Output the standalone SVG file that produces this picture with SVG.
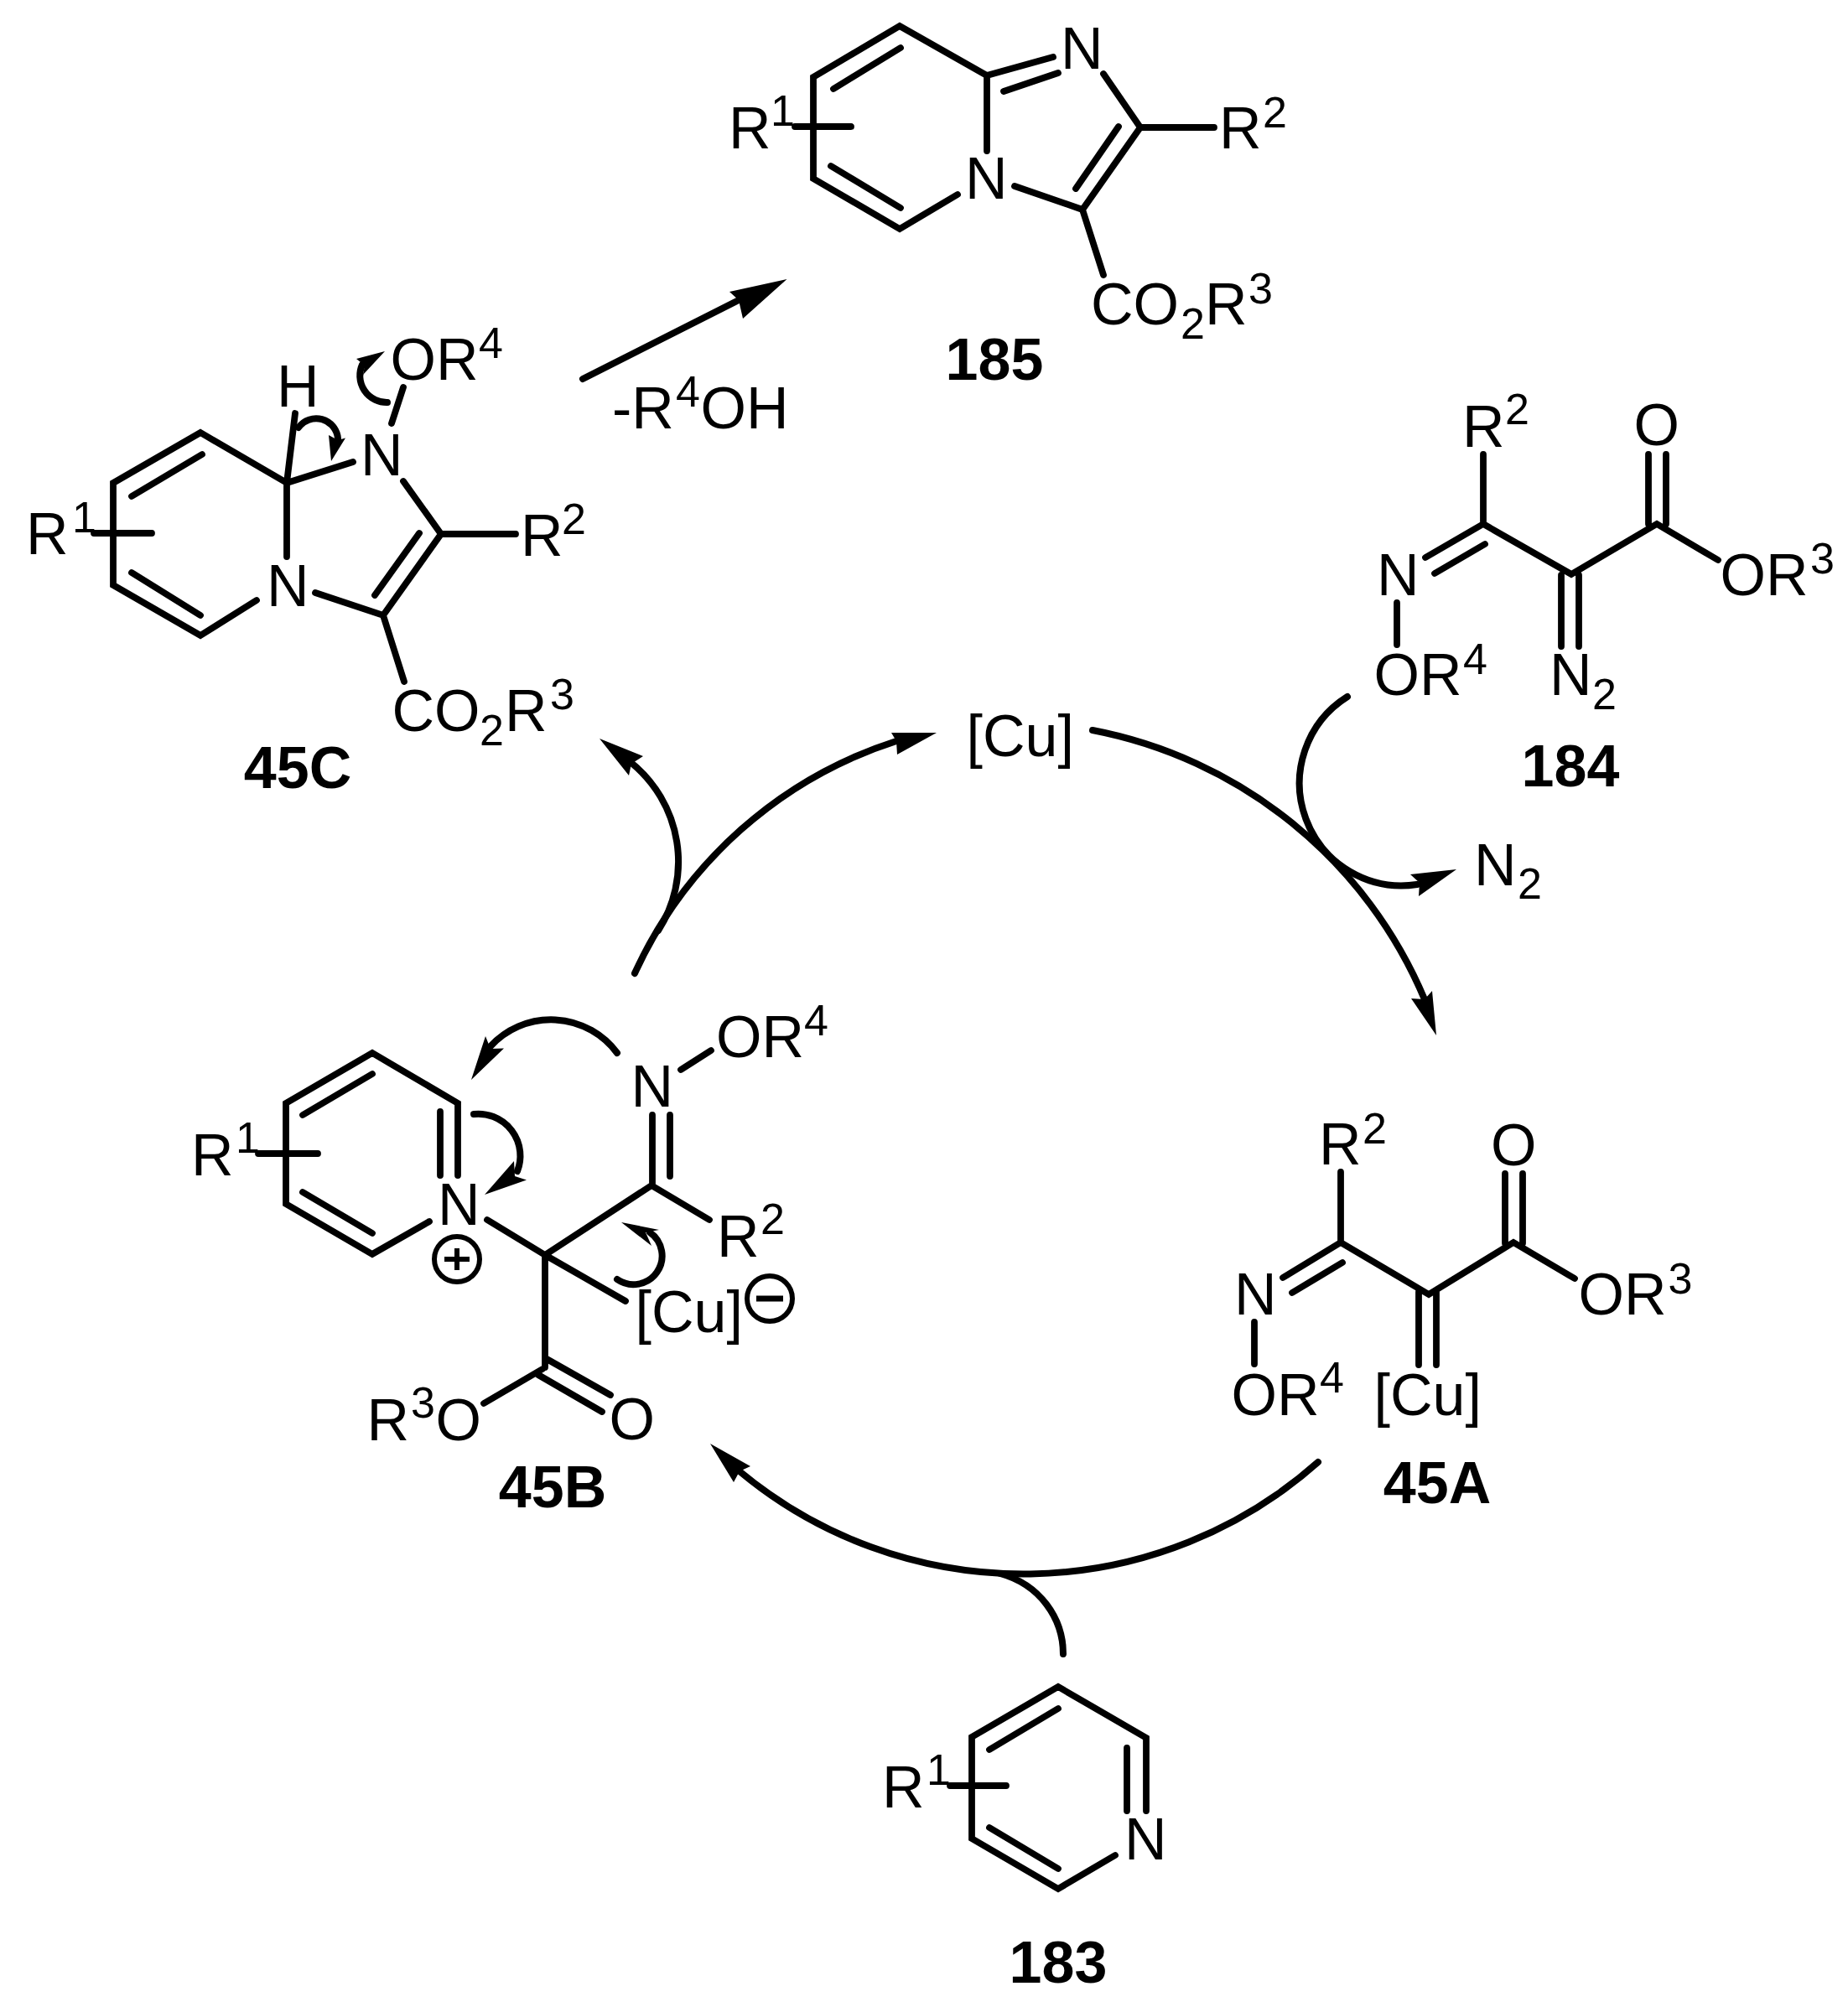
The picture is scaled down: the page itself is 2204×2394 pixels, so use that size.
<svg xmlns="http://www.w3.org/2000/svg" width="2204" height="2394" viewBox="0 0 2204 2394">
<style>
text{font-family:"Liberation Sans",Arial,sans-serif;fill:#000}
.t{font-size:70px}
.s{font-size:52px}
.l{font-size:70px;font-weight:bold;text-anchor:middle}
.b{fill:none;stroke:#000;stroke-width:7.800;stroke-linecap:round;stroke-linejoin:miter}
.a{fill:none;stroke:#000;stroke-width:8;stroke-linecap:round}
.h{fill:#000;stroke:none}
.c{fill:none;stroke:#000;stroke-width:6}
</style>
<rect width="2204" height="2394" fill="#fff"/>
<g id="n185">
<path class="b" d="M1142 232L1073 273L970 213V92L1073 31L1177 90V180M994 106L1074 57M991 198L1074 248M1177 90L1256 68M1197 109L1262 87M1316 88L1360 152L1291 250L1210 222M1334 151L1283 225M1360 152H1448M948 151H1015M1291 250L1316 328"/>
<text class="t" x="1265" y="82">N</text><text class="t" x="1151" y="237">N</text>
<text class="t" x="869" y="177">R</text><text class="s" x="919" y="150">1</text>
<text class="t" x="1454" y="177">R</text><text class="s" x="1506" y="152">2</text>
<text class="t" x="1301" y="387">CO</text><text class="s" x="1408" y="404">2</text><text class="t" x="1437" y="387">R</text><text class="s" x="1489" y="362">3</text>
<text class="l" x="1186" y="453">185</text>
</g>
<g id="n45C">
<path class="b" d="M306 716L239 758L135 698V576L239 516L342 576V664M157 592L241 542M157 683L239 734M342 576L421 551M342 576L352 493M467 505L481 462M481 574L526 637L457 734L376 707M500 636L447 710M526 637H615M112 636H181M457 734L482 813"/>
<text class="t" x="330" y="485">H</text><text class="t" x="430" y="567">N</text><text class="t" x="318" y="723">N</text>
<text class="t" x="465.500" y="453">OR</text><text class="s" x="571" y="427">4</text>
<text class="t" x="31" y="661">R</text><text class="s" x="86" y="635">1</text>
<text class="t" x="621" y="663">R</text><text class="s" x="670" y="637">2</text>
<text class="t" x="467.500" y="872">CO</text><text class="s" x="572" y="889">2</text><text class="t" x="602" y="872">R</text><text class="s" x="656" y="846">3</text>
<text class="l" x="355" y="940">45C</text>
</g>
<g id="n184">
<path class="b" d="M1769 542V625L1874 685L1976 625L2049 668M1769 625L1700 665M1771 649L1711 684M1666 719V769M1862 686V771M1883 686V771M1966 542V625M1987 542V625"/>
<text class="t" x="1744" y="533">R</text><text class="s" x="1795" y="506">2</text>
<text class="t" x="1948.500" y="531">O</text><text class="t" x="1642" y="710">N</text>
<text class="t" x="1638.500" y="829">OR</text><text class="s" x="1745" y="804">4</text>
<text class="t" x="1848" y="829">N</text><text class="s" x="1899" y="846">2</text>
<text class="t" x="2051.500" y="710">OR</text><text class="s" x="2159" y="684">3</text>
<text class="l" x="1873" y="938">184</text>
</g>
<g id="n45A">
<path class="b" d="M1599 1398V1482L1704 1544L1805 1482L1878 1525M1599 1482L1530 1524M1601 1506L1541 1542M1496 1577V1627M1692 1541V1628M1713 1541V1628M1795 1400V1483M1816 1400V1483"/>
<text class="t" x="1573" y="1389">R</text><text class="s" x="1625" y="1364">2</text>
<text class="t" x="1778" y="1390">O</text><text class="t" x="1472" y="1568">N</text>
<text class="t" x="1468.500" y="1687.500">OR</text><text class="s" x="1574" y="1661">4</text>
<text class="t" x="1638.500" y="1687.500">[Cu]</text>
<text class="t" x="1882.500" y="1568">OR</text><text class="s" x="1989.500" y="1543">3</text>
<text class="l" x="1714" y="1793">45A</text>
</g>
<g id="n45B">
<path class="b" d="M512 1457L444 1496L341 1436V1316L444 1256L546 1316V1402M525 1326V1402M361 1330L444 1281M361 1422L444 1471M308 1376H379M581 1455L650 1497L777 1414L846 1455M778 1414V1330M799 1403V1330M812 1276L848 1253M650 1497L746 1552M650 1497V1631M652 1621L728 1664M642 1640L718 1684M647 1633L577 1674"/>
<text class="t" x="228" y="1402">R</text><text class="s" x="281" y="1375">1</text>
<text class="t" x="522" y="1461">N</text><text class="t" x="752.500" y="1320">N</text>
<text class="t" x="854" y="1261">OR</text><text class="s" x="959" y="1235">4</text>
<text class="t" x="855" y="1499">R</text><text class="s" x="907" y="1472">2</text>
<text class="t" x="757.500" y="1589">[Cu]</text>
<text class="t" x="437.500" y="1718">R</text><text class="s" x="490" y="1691">3</text><text class="t" x="519.500" y="1718">O</text>
<text class="t" x="726.500" y="1717">O</text>
<circle class="c" cx="545" cy="1502" r="27"/><path class="c" d="M530 1502H560M545 1489V1515"/>
<circle class="c" cx="918" cy="1549" r="27"/><path class="c" style="stroke-width:7" d="M902 1549H934"/>
<text class="l" x="659" y="1798">45B</text>
</g>
<g id="n183">
<path class="b" d="M1330 2213L1262 2253L1159 2193V2072L1262 2012L1367 2073V2160M1344 2085V2160M1180 2087L1262 2038M1180 2180L1262 2229M1133 2130H1200"/>
<text class="t" x="1052" y="2156">R</text><text class="s" x="1105" y="2129">1</text>
<text class="t" x="1341" y="2218">N</text>
<text class="l" x="1262" y="2365">183</text>
</g>
<g id="nCu"><text class="t" x="1152.500" y="902">[Cu]</text></g>
<g id="nN2"><text class="t" x="1758" y="1056">N</text><text class="s" x="1810" y="1072">2</text></g>
<g id="nR4OH">
<text class="t" x="730" y="510.700">-R</text><text class="s" x="806" y="485">4</text><text class="t" x="835.500" y="510.700">OH</text>
</g>
<g id="connectors">
<path class="a" d="M695 452L881 358"/><polygon class="h" points="938.500,333 870,348 881,358 886,380"/>
<path class="a" d="M757 1161A516 516 0 0 1 1069 884"/><polygon class="h" points="1117,874 1063,874 1069,884 1070,900"/>
<path class="a" d="M785 1110A152 152 0 0 0 753 910"/><polygon class="h" points="715,881 767,902 753,911 750,925"/>
<path class="a" d="M1303 871A540 540 0 0 1 1699 1192"/><polygon class="h" points="1713,1235 1708,1182 1699,1192 1683,1191"/>
<path class="a" d="M1607 831A122 122 0 0 0 1690 1055"/><polygon class="h" points="1737,1037 1682,1043 1693,1053 1692,1069"/>
<path class="a" d="M1572 1744A529 529 0 0 1 882 1755"/><polygon class="h" points="847,1722 895,1749 882,1755 875,1768"/>
<path class="a" d="M1193 1877C1240 1890 1268 1930 1268 1973"/>
<path class="a" d="M736 1256A98 98 0 0 0 585 1248"/><polygon class="h" points="562,1288 579,1236 585,1251 601,1250.500"/>
<path class="a" d="M565 1329A50 50 0 0 1 617 1397"/><polygon class="h" points="578,1425 613,1385 614,1403 628,1407.500"/>
<path class="a" d="M736 1526A34 34 0 0 0 775 1470"/><polygon class="h" points="741,1458 786,1467 770,1470 777,1486"/>
<path class="a" d="M462 480A32 32 0 0 1 432 435"/><polygon class="h" points="459,419 425,428 435,436 433,447"/>
<path class="a" d="M356 510A26 26 0 0 1 403 523"/><polygon class="h" points="395,550 412,522.600 403,525 392,519"/>
</g>
</svg>
